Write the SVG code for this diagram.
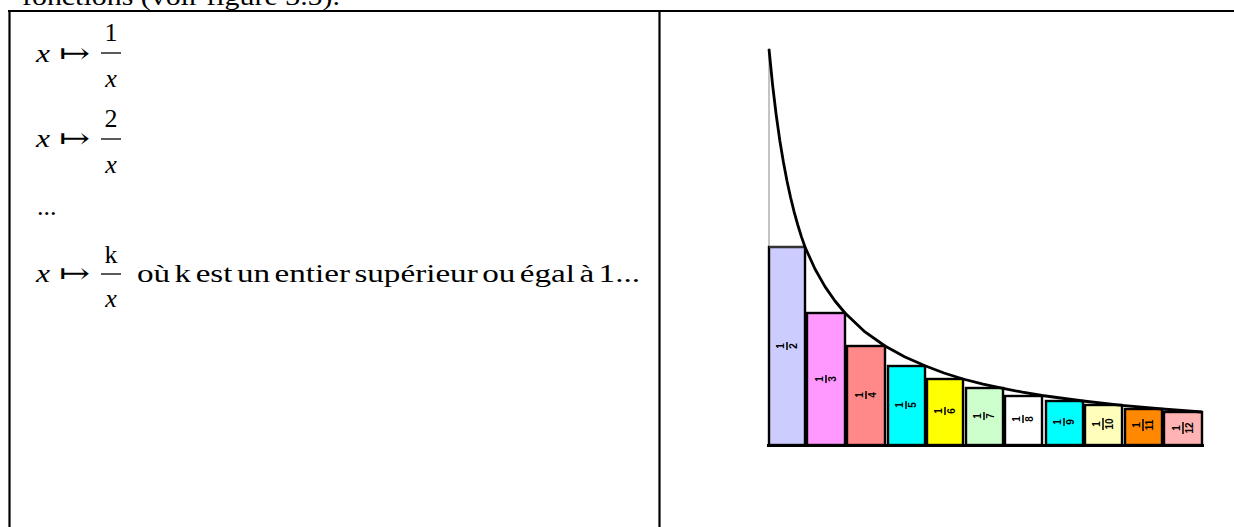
<svg xmlns="http://www.w3.org/2000/svg" width="1234" height="527" viewBox="0 0 1234 527">
<style>
.t{font-family:"Liberation Serif","Times New Roman",serif;font-size:26px;fill:#000}
.i{font-style:italic}
.ar{font-family:"DejaVu Serif","DejaVu Sans",serif;font-size:28px;fill:#000}
.bar{stroke:#000;stroke-width:1.3}
.tb{stroke:#000;stroke-width:2.2;fill:none}
.r{stroke:#000;stroke-width:2.4}
.lb{font-family:"Liberation Sans",Arial,sans-serif;font-size:10px;font-weight:bold;fill:#000;text-anchor:middle}
.lbar{stroke:#000;stroke-width:1.5}
</style>
<rect width="1234" height="527" fill="#fff"/>
<text class="t" x="22" y="5" textLength="318" lengthAdjust="spacingAndGlyphs">fonctions (voir figure 3.5).</text>
<g id="table">
<line class="tb" x1="8" y1="11" x2="1234" y2="11"/>
<line class="tb" x1="9.5" y1="10" x2="9.5" y2="527"/>
<line class="tb" x1="659.5" y1="10" x2="659.5" y2="527"/>
</g>
<g id="formulas">
<g id="f1">
<text class="t i" x="36" y="62" textLength="14" lengthAdjust="spacingAndGlyphs">x</text>
<text class="ar" x="59" y="63" textLength="31" lengthAdjust="spacingAndGlyphs">↦</text>
<text class="t" x="111" y="41" text-anchor="middle">1</text>
<line class="bar" x1="101" y1="53" x2="121" y2="53"/>
<text class="t i" x="111" y="87" text-anchor="middle">x</text>
</g>
<g id="f2">
<text class="t i" x="36" y="147" textLength="14" lengthAdjust="spacingAndGlyphs">x</text>
<text class="ar" x="59" y="148" textLength="31" lengthAdjust="spacingAndGlyphs">↦</text>
<text class="t" x="111" y="127" text-anchor="middle">2</text>
<line class="bar" x1="101" y1="139" x2="121" y2="139"/>
<text class="t i" x="111" y="173" text-anchor="middle">x</text>
</g>
<text class="t" x="37" y="215">...</text>
<g id="f3">
<text class="t i" x="36" y="282" textLength="14" lengthAdjust="spacingAndGlyphs">x</text>
<text class="ar" x="59" y="283" textLength="31" lengthAdjust="spacingAndGlyphs">↦</text>
<text class="t" x="111" y="263" text-anchor="middle">k</text>
<line class="bar" x1="101" y1="274" x2="121" y2="274"/>
<text class="t i" x="111" y="307" text-anchor="middle">x</text>
<text class="t" x="137" y="282" word-spacing="-3" textLength="503" lengthAdjust="spacingAndGlyphs">où k est un entier supérieur ou égal à 1...</text>
</g>
</g>
<g id="chart">
<line x1="769" y1="48" x2="769" y2="445" stroke="#888" stroke-width="1"/>
<g id="bars">
<rect class="r" x="769" y="247" width="36" height="198" fill="#ccccff"/>
<rect class="r" x="807" y="313" width="38" height="132" fill="#ff99ff"/>
<rect class="r" x="847" y="346" width="38" height="99" fill="#ff8888"/>
<rect class="r" x="888" y="366" width="37" height="79" fill="#00ffff"/>
<rect class="r" x="927" y="379" width="36" height="66" fill="#ffff00"/>
<rect class="r" x="966" y="388" width="37" height="57" fill="#ccffcc"/>
<rect class="r" x="1005" y="396" width="37" height="49" fill="#ffffff"/>
<rect class="r" x="1046" y="401" width="37" height="44" fill="#00ffff"/>
<rect class="r" x="1085" y="405" width="37" height="40" fill="#ffffbb"/>
<rect class="r" x="1125" y="409" width="37" height="36" fill="#ff8800"/>
<rect class="r" x="1164" y="412" width="38" height="33" fill="#ffb3b3"/>
</g>
<line x1="769" y1="247" x2="805" y2="247" stroke="#666" stroke-width="1"/>
<line x1="767" y1="445.5" x2="1204" y2="445.5" stroke="#000" stroke-width="3"/>
<g id="labels">
<g transform="translate(787,346) rotate(-90)"><text class="lb" y="-3">1</text><line class="lbar" x1="-4" y1="0" x2="4" y2="0"/><text class="lb" y="10">2</text></g>
<g transform="translate(826,379) rotate(-90)"><text class="lb" y="-3">1</text><line class="lbar" x1="-4" y1="0" x2="4" y2="0"/><text class="lb" y="10">3</text></g>
<g transform="translate(866,395) rotate(-90)"><text class="lb" y="-3">1</text><line class="lbar" x1="-4" y1="0" x2="4" y2="0"/><text class="lb" y="10">4</text></g>
<g transform="translate(906,405) rotate(-90)"><text class="lb" y="-3">1</text><line class="lbar" x1="-4" y1="0" x2="4" y2="0"/><text class="lb" y="10">5</text></g>
<g transform="translate(945,411) rotate(-90)"><text class="lb" y="-3">1</text><line class="lbar" x1="-4" y1="0" x2="4" y2="0"/><text class="lb" y="10">6</text></g>
<g transform="translate(984,416) rotate(-90)"><text class="lb" y="-3">1</text><line class="lbar" x1="-4" y1="0" x2="4" y2="0"/><text class="lb" y="10">7</text></g>
<g transform="translate(1023,419) rotate(-90)"><text class="lb" y="-3">1</text><line class="lbar" x1="-4" y1="0" x2="4" y2="0"/><text class="lb" y="10">8</text></g>
<g transform="translate(1064,422) rotate(-90)"><text class="lb" y="-3">1</text><line class="lbar" x1="-4" y1="0" x2="4" y2="0"/><text class="lb" y="10">9</text></g>
<g transform="translate(1103,424) rotate(-90)"><text class="lb" y="-3">1</text><line class="lbar" x1="-6" y1="0" x2="6" y2="0"/><text class="lb" y="10">10</text></g>
<g transform="translate(1143,425) rotate(-90)"><text class="lb" y="-3">1</text><line class="lbar" x1="-6" y1="0" x2="6" y2="0"/><text class="lb" y="10">11</text></g>
<g transform="translate(1183,428) rotate(-90)"><text class="lb" y="-3">1</text><line class="lbar" x1="-6" y1="0" x2="6" y2="0"/><text class="lb" y="10">12</text></g>
</g>
<polyline id="curve" fill="none" stroke="#000" stroke-width="2.8" stroke-linejoin="round" points="769,49 772.6,85 776.2,115 779.8,140.4 783.4,162.1 787,181 790.6,197.5 794.2,212.1 797.8,225 801.4,236.6 805,247 815,269 825,286.6 835,301 845,313 865,331.9 885,346 905,357 925,365.8 944,373 963,379 983,384.1 1003,388.4 1022.5,392.2 1042,395.5 1083,401 1122,405.4 1162,409 1202,412"/>
</g>
</svg>
